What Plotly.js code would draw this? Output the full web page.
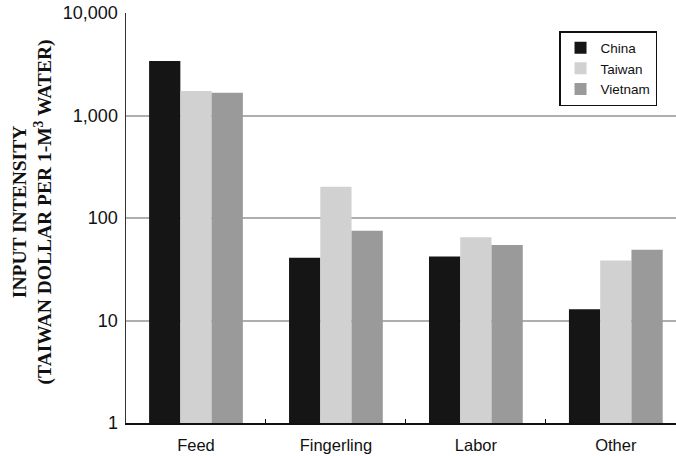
<!DOCTYPE html>
<html>
<head>
<meta charset="utf-8">
<script src="https://cdn.plot.ly/plotly-3.0.1.min.js"></script>
<style>html,body{margin:0;padding:0;background:#fff;}#chart{width:676px;height:456px;}</style>
</head>
<body>
<div id="chart"></div>
<script>
const categories = ["Feed", "Fingerling", "Labor", "Other"];
const seriesNames = ["China", "Taiwan", "Vietnam"];
const chinaValues = [3400, 41, 42, 12.9];
const taiwanValues = [1730, 202, 65, 38.5];
const vietnamValues = [1670, 75, 54.5, 49];
const yTickVals = [1, 10, 100, 1000, 10000];
const yTickText = ["1", "10", "100", "1,000", "10,000"];
const colors = ["#151515", "#d1d1d1", "#9a9a9a"];

const allValues = [chinaValues, taiwanValues, vietnamValues];
const traces = seriesNames.map((name, i) => ({
  type: "bar",
  name: name,
  x: categories,
  y: allValues[i],
  marker: {color: colors[i], line: {width: 0}},
  hoverinfo: "x+y+name"
}));

const layout = {
  width: 676,
  height: 456,
  margin: {l: 126, r: 0, t: 13, b: 33},
  paper_bgcolor: "#ffffff",
  plot_bgcolor: "#ffffff",
  barmode: "group",
  bargap: 0.33,
  bargroupgap: 0,
  font: {family: "Liberation Sans, Arial, sans-serif", color: "#111111"},
  xaxis: {
    type: "category",
    range: [-0.5, 3.43],
    showgrid: false,
    showline: true,
    linecolor: "#111111",
    linewidth: 1.5,
    ticks: "inside",
    tickson: "boundaries",
    ticklen: 4,
    tickcolor: "#111111",
    ticklabelstandoff: 7,
    tickfont: {size: 16.5, family: "Liberation Sans, Arial, sans-serif", color: "#111111"},
    fixedrange: true
  },
  yaxis: {
    type: "log",
    range: [0, 4],
    tickvals: yTickVals,
    ticktext: yTickText,
    showgrid: true,
    gridcolor: "#aeaeae",
    gridwidth: 2,
    showline: true,
    linecolor: "#333333",
    linewidth: 1.5,
    ticks: "",
    ticklabelstandoff: 3,
    zeroline: false,
    tickfont: {size: 18, family: "Liberation Sans, Arial, sans-serif", color: "#111111"},
    fixedrange: true
  },
  legend: {
    x: 0.9655,
    xanchor: "right",
    y: 0.956,
    yanchor: "top",
    bgcolor: "#ffffff",
    bordercolor: "#111111",
    borderwidth: 1.5,
    font: {size: 13.5, family: "Liberation Sans, Arial, sans-serif", color: "#111111"},
    itemwidth: 30,
    tracegroupgap: 0
  },
  annotations: [{
    xref: "paper",
    yref: "paper",
    x: -0.171,
    y: 0.516,
    xanchor: "center",
    yanchor: "middle",
    textangle: -90,
    showarrow: false,
    align: "center",
    text: "<b>INPUT INTENSITY<br>(TAIWAN DOLLAR PER 1-M<sup>3</sup> WATER)</b>",
    font: {size: 19.5, family: "Liberation Serif, Times New Roman, serif", color: "#111111"}
  }]
};

Plotly.newPlot("chart", traces, layout, {displayModeBar: false, staticPlot: true});
</script>
</body>
</html>
